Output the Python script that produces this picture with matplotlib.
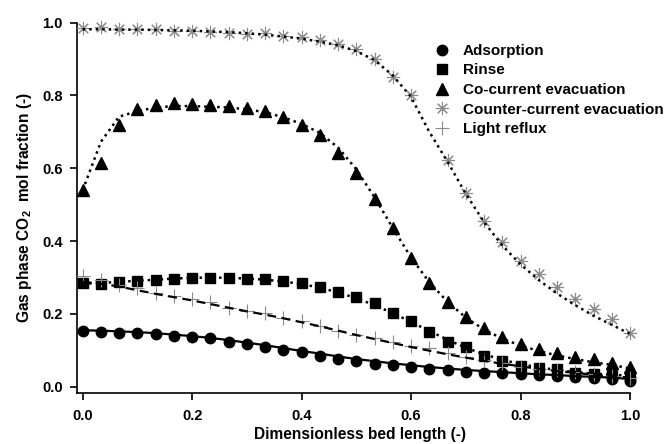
import numpy as np
import matplotlib
matplotlib.use("Agg")
import matplotlib.pyplot as plt
from matplotlib.lines import Line2D

plt.rcParams['font.family'] = ['Liberation Sans', 'DejaVu Sans']
plt.rcParams['font.weight'] = 'bold'
plt.rcParams['mathtext.fontset'] = 'custom'
plt.rcParams['mathtext.rm'] = 'Liberation Sans:bold'
plt.rcParams['mathtext.bf'] = 'Liberation Sans:bold'

# bed position, 31 nodes
bed_length = np.linspace(0, 1, 31)

# symbols (simulation/measurement points)
adsorption_pts = [0.154, 0.151, 0.148, 0.147, 0.145, 0.139, 0.136, 0.133, 0.124, 0.117, 0.108,
                  0.101, 0.094, 0.083, 0.076, 0.071, 0.061, 0.059, 0.053, 0.048, 0.046,
                  0.041, 0.038, 0.038, 0.034, 0.032, 0.029, 0.027, 0.025, 0.020, 0.016]
rinse_pts = [0.284, 0.282, 0.287, 0.290, 0.293, 0.297, 0.300, 0.300, 0.299, 0.297, 0.296,
             0.290, 0.284, 0.275, 0.261, 0.247, 0.229, 0.203, 0.180, 0.151, 0.124,
             0.108, 0.084, 0.071, 0.058, 0.052, 0.048, 0.038, 0.035, 0.032, 0.026]
cocurrent_pts = [0.540, 0.614, 0.719, 0.762, 0.774, 0.780, 0.777, 0.774, 0.771, 0.765, 0.757,
                 0.740, 0.719, 0.691, 0.642, 0.586, 0.515, 0.435, 0.353, 0.284, 0.234,
                 0.191, 0.160, 0.137, 0.117, 0.104, 0.093, 0.082, 0.077, 0.066, 0.055]
countercurrent_pts = [0.985, 0.987, 0.982, 0.982, 0.982, 0.978, 0.978, 0.975, 0.971, 0.969, 0.971,
                      0.964, 0.960, 0.952, 0.942, 0.927, 0.899, 0.851, 0.800, np.nan, 0.623,
                      0.531, 0.456, 0.397, 0.346, 0.310, 0.275, 0.240, 0.214, 0.186, 0.148]
lightreflux_pts = [0.304, 0.293, 0.280, 0.270, 0.258, 0.250, 0.242, 0.234, 0.215, 0.208, 0.202,
                   0.190, 0.181, 0.166, 0.152, 0.143, 0.134, 0.124, 0.112, 0.105, 0.092,
                   0.082, 0.073, 0.064, 0.055, 0.050, 0.045, 0.040, 0.035, 0.030, 0.025]

# curves
adsorption_fit = [0.155, 0.154, 0.152, 0.150, 0.147, 0.143, 0.139, 0.134, 0.128, 0.121, 0.114,
                  0.106, 0.098, 0.091, 0.083, 0.076, 0.070, 0.064, 0.059, 0.054, 0.050,
                  0.046, 0.043, 0.040, 0.037, 0.034, 0.032, 0.029, 0.027, 0.025, 0.021]
rinse_fit = [0.283, 0.285, 0.288, 0.291, 0.294, 0.297, 0.299, 0.300, 0.299, 0.297, 0.294,
             0.289, 0.282, 0.272, 0.259, 0.243, 0.224, 0.202, 0.178, 0.153, 0.129,
             0.107, 0.089, 0.074, 0.062, 0.053, 0.046, 0.040, 0.036, 0.033, 0.030]
cocurrent_fit = [0.540, 0.673, 0.742, 0.757, 0.767, 0.771, 0.771, 0.769, 0.767, 0.762, 0.754,
                 0.740, 0.722, 0.697, 0.657, 0.597, 0.520, 0.436, 0.355, 0.287, 0.233,
                 0.190, 0.157, 0.132, 0.113, 0.098, 0.086, 0.076, 0.067, 0.060, 0.050]
countercurrent_fit = [0.982, 0.982, 0.981, 0.981, 0.980, 0.979, 0.978, 0.976, 0.974, 0.971, 0.967,
                      0.962, 0.956, 0.948, 0.938, 0.922, 0.897, 0.855, 0.796, 0.700, 0.618,
                      0.530, 0.452, 0.388, 0.336, 0.293, 0.256, 0.224, 0.195, 0.170, 0.145]
lightreflux_fit = [0.288, 0.283, 0.275, 0.265, 0.255, 0.246, 0.237, 0.227, 0.217, 0.207, 0.198,
                   0.188, 0.177, 0.166, 0.154, 0.142, 0.131, 0.120, 0.109, 0.099, 0.089,
                   0.080, 0.071, 0.063, 0.056, 0.049, 0.043, 0.038, 0.033, 0.029, 0.025]

labels = ["Adsorption", "Rinse", "Co-current evacuation", "Counter-current evacuation", "Light reflux"]
x_ticks = [0.0, 0.2, 0.4, 0.6, 0.8, 1.0]
y_ticks = [0.0, 0.2, 0.4, 0.6, 0.8, 1.0]

grey = '#8a8a8a'
fig = plt.figure(figsize=(6.67, 4.44), dpi=100)
ax = fig.add_axes([76.7 / 667, 1 - 392.7 / 444, (630 - 76.7) / 667, (392.7 - 22.7) / 444])

dot = (0, (1, 1.6))
ax.plot(bed_length, adsorption_pts, 'o', color='black', ms=7.5, clip_on=False, zorder=3)
ax.plot(bed_length, rinse_pts, 's', color='black', ms=7.5, clip_on=False, zorder=3)
ax.plot(bed_length, cocurrent_pts, '^', color='black', ms=8, clip_on=False, zorder=3)
ax.plot(bed_length, countercurrent_pts, marker=(8, 2, 0), ls='none', color=grey, mec=grey,
        ms=9.5, mew=0.8, clip_on=False, zorder=3)
ax.plot(bed_length, lightreflux_pts, '+', color=grey, ms=10, mew=0.8, clip_on=False, zorder=3)

ax.plot(bed_length, adsorption_fit, '-', color='black', lw=1.6, zorder=4)
ax.plot(bed_length, rinse_fit, ls=dot, color='black', lw=1.8, zorder=4)
ax.plot(bed_length, cocurrent_fit, ls=dot, color='black', lw=1.8, zorder=4)
ax.plot(bed_length, countercurrent_fit, ls=dot, color='black', lw=1.8, zorder=4)
ax.plot(bed_length, lightreflux_fit, ls=(0, (4, 2.5)), color='black', lw=1.6, zorder=4)

ax.set_xlim(-6 / 547, 1.0)
ax.set_ylim(-6 / 364, 1.0)
ax.set_xticks(x_ticks)
ax.set_yticks(y_ticks)
ax.set_xticklabels([f"{v:.1f}" for v in x_ticks])
ax.set_yticklabels([f"{v:.1f}" for v in y_ticks])
for s in ['top', 'right']:
    ax.spines[s].set_visible(False)
for s in ['left', 'bottom']:
    ax.spines[s].set_linewidth(1.2)
ax.tick_params(direction='out', length=5, width=1.2, labelsize=10.5, pad=5)
ax.tick_params(axis='x', pad=7)

ax.set_xlabel("Dimensionless bed length (-)", fontsize=11.2, fontweight='bold')
ax.xaxis.set_label_coords(0.512, -0.092)
ax.set_ylabel(r"Gas phase CO$_\mathbf{2}$  mol fraction (-)", fontsize=11.2, fontweight='bold', labelpad=6)

handles = [
    Line2D([], [], marker='o', ls='none', color='black', ms=7.5),
    Line2D([], [], marker='s', ls='none', color='black', ms=7.5),
    Line2D([], [], marker='^', ls='none', color='black', ms=8),
    Line2D([], [], marker=(8, 2, 0), ls='none', color=grey, ms=9.5, mew=0.8),
    Line2D([], [], marker='+', ls='none', color=grey, ms=10, mew=0.8),
]
fig.legend(handles, labels, loc='upper left', bbox_to_anchor=(434.7 / 667, 1 - 44.0 / 444),
           frameon=False, prop={'weight': 'bold', 'size': 11},
           handlelength=0.9, handletextpad=0.95, labelspacing=0.36, borderpad=0, borderaxespad=0)

fig.savefig("out.png", dpi=100)
